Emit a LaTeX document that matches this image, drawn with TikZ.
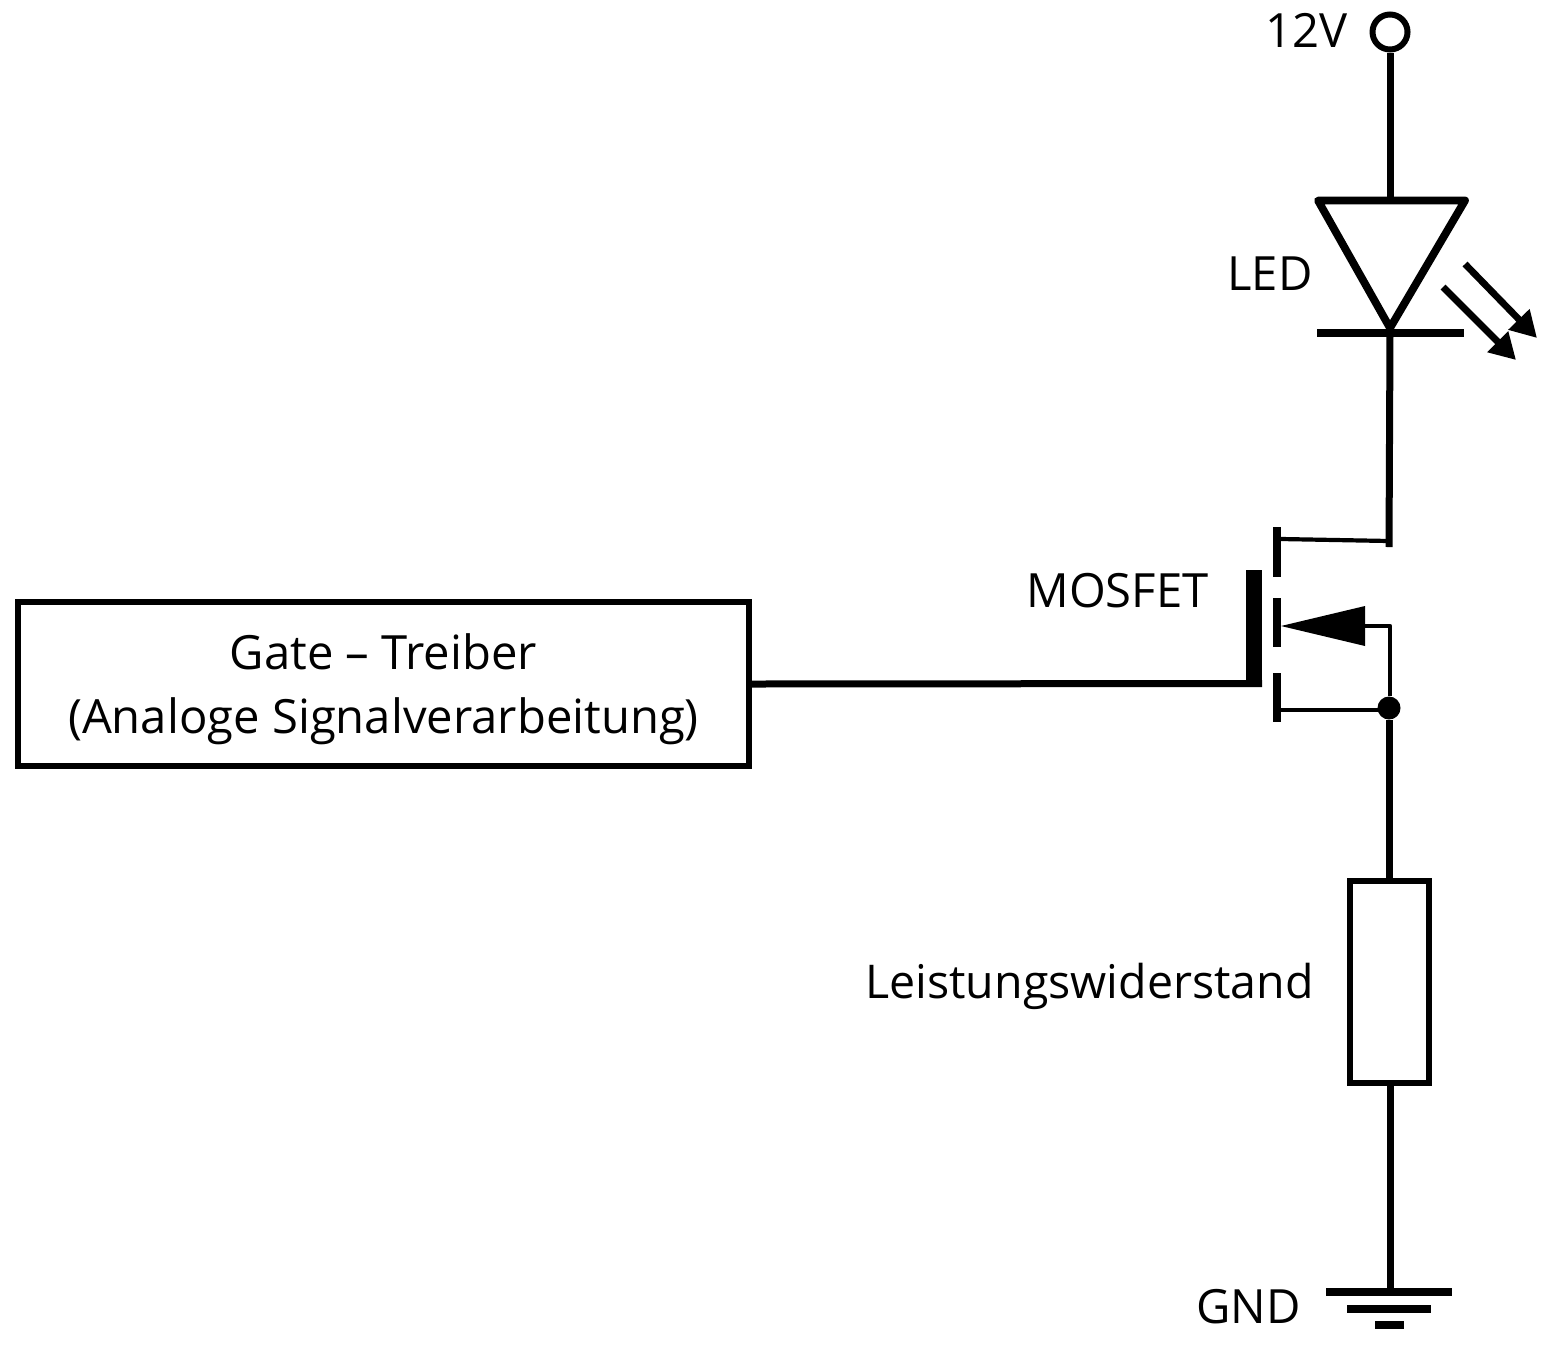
\documentclass[tikz,border=0pt]{standalone}
\usepackage{fontspec}
\setmainfont{Open Sans}
\usetikzlibrary{arrows.meta}
\tikzset{
  wire/.style={line width=3.5pt},
  thinwire/.style={line width=2.1pt},
  block/.style={draw,line width=3pt,rectangle,inner sep=0pt,anchor=center},
  txt/.style={font=\fontsize{23.6}{28}\selectfont,inner sep=0pt},
  lbl/.style={txt,anchor=base west},
  bar/.style={line width=3.6pt},
  ray/.style={line width=3.4pt,-{Triangle[length=13pt,width=14pt]}}
}
\begin{document}
\begin{tikzpicture}[x=0.5pt,y=-0.5pt]
\useasboundingbox (0,0) rectangle (1552,1361);
% nodes
\node[block,minimum width=365.5pt,minimum height=82pt] (drv) at (383.5,684) {};
\node[block,minimum width=39.5pt,minimum height=101pt] (res) at (1389.5,982) {};
\node[draw,circle,line width=3pt,minimum size=17.5pt,inner sep=0pt] (vcc) at (1390,32) {};
\node[circle,fill=black,minimum size=11.5pt,inner sep=0pt] (jn) at (1389,708) {};
\coordinate (ledT) at (1390,200);
\coordinate (ledK) at (1390,333);
\coordinate (drainR) at (1389,547);
\coordinate (gateW) at (1262,683.5);
\coordinate (gnd) at (1390,1292);
% labels
\node[lbl] at (1265,47) {12V};
\node[lbl] at (1227,290) {LED};
\node[lbl] at (1026,607) {MOSFET};
\node[lbl,font=\fontsize{23.25}{28}\selectfont] at (865,998) {Leistungswiderstand};
\node[lbl] at (1196,1323) {GND};
\node[txt,anchor=base] at (383.5,669) {Gate – Treiber};
\node[txt,anchor=base] at (383.5,733) {(Analoge Signalverarbeitung)};
% wires
\draw[wire] (vcc.south) -- (ledT);
\draw[wire] (ledK) -- (drainR);
\draw[wire] (drv.east) -- (gateW);
\draw[wire] (jn) -- (res.north -| jn);
\draw[wire] (res.south -| gnd) -- (gnd);
% LED
\draw[line width=3.9pt,line join=round] (1318,200.5) -- (1465,200.5) -- (1390,328) -- cycle;
\draw[bar] (1317,333) -- (1464,333);
\draw[ray] (1465,264) -- (1537,338);
\draw[ray] (1443,287) -- (1516,360);
% MOSFET
\fill (1246,570) rectangle (1262,687);
\fill (1273,527) rectangle (1281,577);
\fill (1273,598) rectangle (1281,647);
\fill (1273,673) rectangle (1281,722);
\draw[thinwire] (1281,539) -- (drainR |- 0,541);
\fill (1281,626) -- (1365,606) -- (1365,646) -- cycle;
\draw[thinwire,line join=round] (1365,626) -- (1390,626) -- (jn.north -| 1390,0);
\draw[thinwire] (1281,710) -- (jn.center |- 0,710);
% ground
\draw[bar] (1326,1292) -- (1452,1292);
\draw[bar] (1347,1309) -- (1431,1309);
\draw[bar] (1375,1325) -- (1404,1325);
\end{tikzpicture}
\end{document}
